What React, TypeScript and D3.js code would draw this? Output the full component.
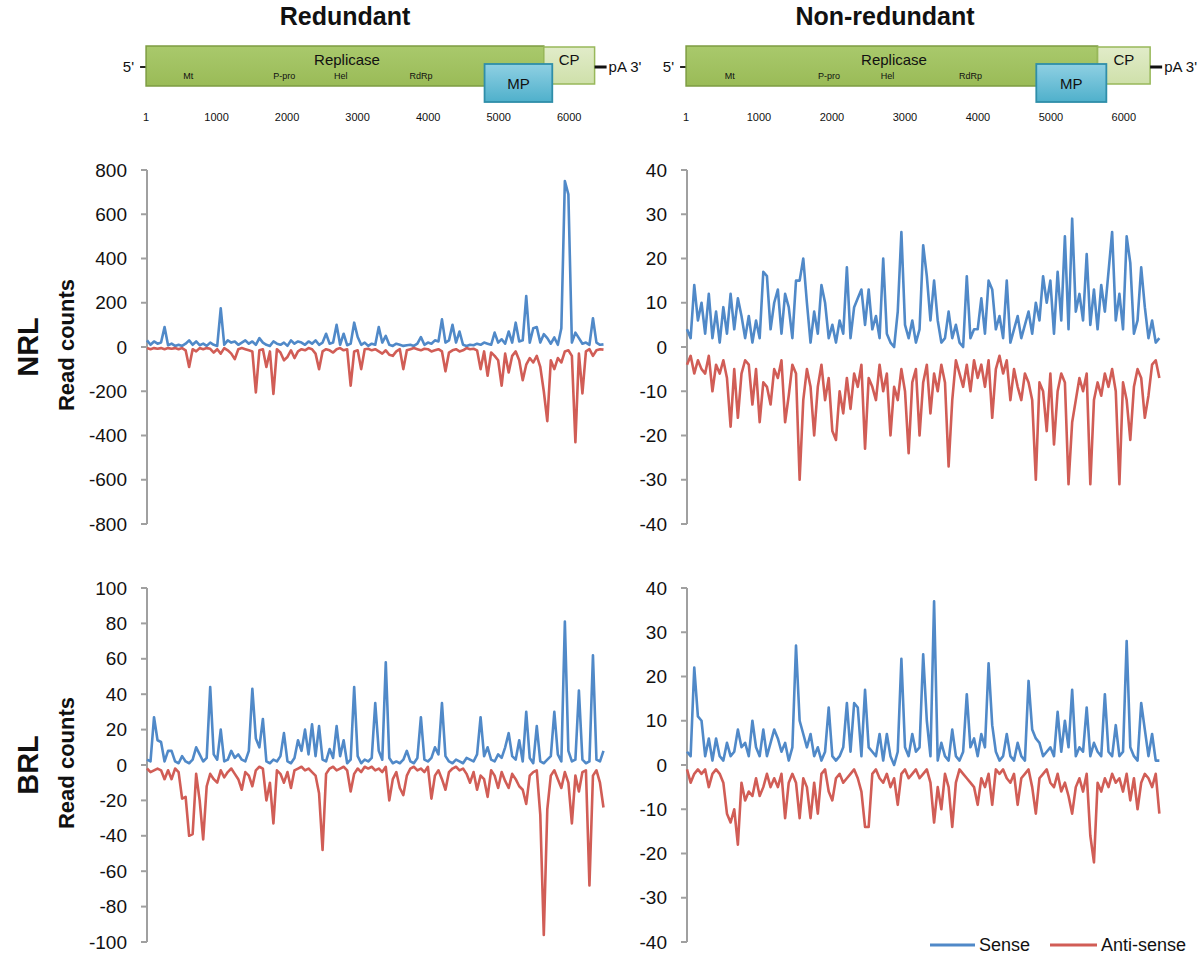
import React from 'react';
import * as d3 from 'd3';

// ---------- data (read counts per 50-nt bin along the genome) ----------
const BIN = 50;
const GENOME_MAX = 6550;

const columnTitles = ['Redundant', 'Non-redundant'];
const rowLabels = ['NRL', 'BRL'];
const positionTicks = [1, 1000, 2000, 3000, 4000, 5000, 6000];

const nrlRedundantSense = [
  30, 10, 25, 15, 20, 90, 8, 15, 5, 10,
  5, 15, 30, 10, 25, 8, 15, 5, 20, 10,
  5, 175, 10, 30, 20, 25, 10, 20, 30, 15,
  25, 10, 40, 20, 10, 5, 25, 15, 10, 20,
  5, 30, 15, 25, 20, 10, 25, 15, 30, 10,
  20, 60, 15, 20, 100, 10, 60, 8, 15, 110,
  45, 10, 20, 5, 15, 10, 90, 20, 50, 10,
  5, 15, 10, 5, 8, 10, 5, 15, 45, 10,
  20, 15, 30, 25, 125, 20, 30, 100, 20, 70,
  10, 5, 10, 8, 15, 10, 20, 15, 10, 65,
  20, 35, 15, 70, 20, 110, 25, 30, 230, 20,
  85, 90, 20, 58, 40, 15, 43, 10, 85, 750,
  690, 20, 65, 40, 15, 20, 10, 130, 20, 10,
  12,
];
const nrlRedundantAnti = [
  -5, -10, -5, -8, -5, -10, -5, -8, -5, -10,
  -5, -15, -90, -10, -20, -5, -10, -5, -8, -25,
  -10, -30, -5, -15, -30, -55, -10, -5, -10, -15,
  -20, -205, -15, -10, -90, -20, -212, -10, -25, -60,
  -45, -15, -50, -20, -10, -15, -5, -10, -30, -100,
  -20, -10, -15, -25, -10, -5, -15, -10, -175, -20,
  -15, -100, -10, -8, -15, -10, -20, -30, -15, -35,
  -40, -20, -10, -100, -15, -10, -5, -10, -15, -8,
  -10, -20, -15, -10, -20, -110, -25, -15, -10, -20,
  -15, -5, -10, -8, -15, -100, -20, -130, -25, -40,
  -60, -175, -30, -115, -40, -20, -60, -150, -80, -50,
  -70, -40, -90, -200, -335, -60, -100, -50, -70, -20,
  -15, -40, -430, -30, -210, -20, -10, -40, -15, -10,
  -12,
];

const nrlNonRedundantSense = [
  4, 2, 14, 6, 10, 3, 12, 2, 8, 1,
  9, 3, 12, 4, 11, 7, 2, 7, 1, 6,
  2, 17, 16, 4, 10, 13, 3, 12, 9, 2,
  15, 15, 20, 10, 1, 8, 3, 14, 10, 2,
  5, 1, 6, 3, 18, 2, 9, 11, 13, 5,
  13, 4, 7, 2, 20, 3, 1, 0, 8, 26,
  5, 2, 6, 1, 4, 23, 16, 6, 15, 6,
  1, 2, 8, 2, 5, 1, 0, 16, 2, 4,
  4, 11, 3, 15, 13, 4, 7, 2, 15, 1,
  4, 7, 2, 5, 8, 3, 10, 6, 16, 10,
  15, 3, 17, 6, 25, 4, 29, 8, 12, 6,
  21, 5, 13, 4, 14, 8, 17, 26, 6, 12,
  4, 25, 19, 3, 6, 18, 9, 2, 6, 1,
  2,
];
const nrlNonRedundantAnti = [
  -4, -2, -6, -3, -5, -6, -2, -10, -4, -6,
  -3, -7, -18, -5, -16, -6, -3, -4, -13, -5,
  -17, -8, -9, -13, -5, -7, -3, -17, -11, -4,
  -6, -30, -12, -5, -9, -20, -9, -4, -12, -7,
  -19, -21, -10, -15, -7, -14, -6, -9, -4, -23,
  -7, -9, -12, -4, -10, -6, -20, -9, -12, -5,
  -10, -24, -8, -5, -20, -8, -4, -15, -6, -10,
  -4, -8, -27, -12, -3, -6, -9, -4, -10, -3,
  -7, -4, -9, -3, -16, -5, -2, -6, -3, -12,
  -5, -9, -12, -6, -8, -12, -30, -8, -10, -19,
  -6, -22, -10, -6, -8, -31, -17, -12, -7, -10,
  -6, -31, -12, -8, -11, -6, -9, -5, -10, -31,
  -8, -12, -21, -9, -5, -7, -16, -11, -4, -3,
  -7,
];

const brlRedundantSense = [
  3, 2, 27, 14, 13, 2, 8, 8, 2, 1,
  5, 2, 1, 3, 10, 6, 2, 4, 44, 6,
  3, 20, 2, 3, 8, 4, 6, 3, 2, 8,
  43, 15, 10, 26, 2, 1, 3, 2, 5, 18,
  2, 1, 4, 14, 8, 20, 6, 23, 5, 22,
  3, 2, 9, 4, 22, 5, 14, 1, 3, 44,
  5, 1, 3, 2, 4, 35, 8, 3, 58, 4,
  1, 2, 1, 3, 8, 2, 1, 4, 27, 3,
  2, 4, 10, 6, 35, 5, 2, 1, 3, 2,
  1, 4, 3, 2, 6, 27, 5, 10, 3, 2,
  6, 4, 10, 18, 5, 3, 14, 2, 30, 4,
  1, 22, 2, 1, 3, 5, 30, 6, 2, 81,
  8, 2, 3, 42, 3, 1, 2, 62, 3, 2,
  8,
];
const brlRedundantAnti = [
  -2, -4, -3, -2, -3, -8, -3, -8, -2, -4,
  -19, -18, -40, -39, -5, -20, -42, -12, -5, -8,
  -10, -3, -7, -4, -2, -5, -8, -14, -4, -6,
  -12, -3, -1, -2, -20, -10, -33, -3, -5, -10,
  -4, -13, -3, -2, -1, -3, -2, -4, -6, -16,
  -48, -5, -2, -1, -3, -2, -1, -3, -15, -5,
  -2, -4, -1, -2, -1, -3, -2, -4, -1, -20,
  -8, -4, -13, -17, -6, -2, -1, -3, -2, -4,
  -1, -19, -6, -3, -8, -14, -4, -2, -1, -3,
  -2, -5, -10, -4, -14, -6, -8, -18, -3, -6,
  -13, -4, -9, -13, -5, -8, -12, -14, -22, -6,
  -4, -3, -28, -96, -25, -6, -3, -8, -13, -4,
  -10, -33, -6, -15, -4, -3, -68, -6, -3, -10,
  -24,
];

const brlNonRedundantSense = [
  3, 2, 22, 11, 10, 2, 6, 1, 6, 2,
  1, 5, 2, 3, 8, 4, 5, 2, 10, 4,
  2, 8, 2, 5, 8, 6, 3, 5, 1, 4,
  27, 10, 7, 4, 7, 2, 4, 1, 3, 13,
  2, 1, 2, 4, 14, 3, 14, 13, 2, 17,
  4, 3, 2, 7, 1, 7, 2, 0, 3, 24,
  4, 2, 7, 3, 4, 25, 10, 2, 37, 1,
  5, 2, 1, 8, 2, 1, 3, 16, 4, 6,
  2, 7, 4, 23, 9, 3, 1, 2, 7, 2,
  1, 5, 2, 1, 19, 8, 6, 5, 2, 3,
  4, 2, 12, 3, 10, 4, 17, 2, 4, 3,
  13, 2, 5, 3, 2, 16, 3, 2, 9, 2,
  3, 28, 4, 2, 1, 14, 8, 2, 7, 1,
  1,
];
const brlNonRedundantAnti = [
  -1, -4, -2, -1, -2, -1, -5, -2, -1, -2,
  -4, -11, -13, -10, -18, -4, -8, -6, -7, -3,
  -7, -5, -2, -5, -3, -5, -2, -12, -4, -2,
  -4, -12, -3, -5, -12, -4, -11, -2, -1, -6,
  -8, -3, -2, -4, -3, -2, -1, -3, -6, -14,
  -14, -2, -1, -3, -4, -2, -5, -3, -9, -2,
  -1, -3, -2, -1, -3, -2, -1, -4, -13, -5,
  -10, -2, -5, -14, -4, -1, -2, -3, -4, -5,
  -9, -3, -5, -2, -9, -1, -2, -1, -3, -4,
  -2, -9, -3, -2, -1, -5, -11, -3, -2, -1,
  -4, -5, -2, -6, -4, -7, -11, -5, -3, -6,
  -2, -16, -22, -4, -6, -3, -5, -2, -4, -3,
  -6, -2, -8, -3, -10, -4, -2, -3, -5, -2,
  -11,
];

// genome features (nt)
const replicaseSpan = [1, 5640];
const cpSpan = [5640, 6360];
const mpSpan = [4800, 5760];
const domainLabels = [
  { name: 'Mt', pos: 600 },
  { name: 'P-pro', pos: 1960 },
  { name: 'Hel', pos: 2760 },
  { name: 'RdRp', pos: 3900 },
];

// ---------- styling ----------
const FONT = '"Liberation Sans", Arial, Helvetica, sans-serif';
const SENSE_COLOR = '#5089c8';
const ANTI_COLOR = '#d15d56';
const AXIS_COLOR = '#a0a0a0';

const columns = [
  { x0: 147, x1: 607, titleX: 345 },
  { x0: 687, x1: 1163, titleX: 885 },
];
const rows = [
  { yTop: 170, yBottom: 524 },
  { yTop: 588, yBottom: 942 },
];

const panels = [
  { col: 0, row: 0, max: 800, step: 200, sense: nrlRedundantSense, anti: nrlRedundantAnti },
  { col: 1, row: 0, max: 40, step: 10, sense: nrlNonRedundantSense, anti: nrlNonRedundantAnti },
  { col: 0, row: 1, max: 100, step: 20, sense: brlRedundantSense, anti: brlRedundantAnti },
  { col: 1, row: 1, max: 40, step: 10, sense: brlNonRedundantSense, anti: brlNonRedundantAnti },
];

function Panel({ x0, x1, yTop, yBottom, max, step, sense, anti }: any) {
  const x = d3.scaleLinear().domain([0, GENOME_MAX]).range([x0, x1]);
  const y = d3.scaleLinear().domain([-max, max]).range([yBottom, yTop]);
  const line = d3
    .line<number>()
    .x((_, i) => x(i * BIN))
    .y((d) => y(d));
  const ticks = d3.range(-max, max + step / 2, step);
  return (
    <g>
      <line x1={x0} x2={x0} y1={y(max)} y2={y(-max)} stroke={AXIS_COLOR} strokeWidth={2} />
      {ticks.map((t) => (
        <g key={t}>
          <line x1={x0 - 6} x2={x0} y1={y(t)} y2={y(t)} stroke={AXIS_COLOR} strokeWidth={2} />
          <text
            x={x0 - 20}
            y={y(t)}
            dy="0.35em"
            textAnchor="end"
            fontFamily={FONT}
            fontSize={19}
            fill="#111"
          >
            {t}
          </text>
        </g>
      ))}
      <path d={line(sense) || ''} fill="none" stroke={SENSE_COLOR} strokeWidth={2.6} strokeLinejoin="round" />
      <path d={line(anti) || ''} fill="none" stroke={ANTI_COLOR} strokeWidth={2.6} strokeLinejoin="round" />
    </g>
  );
}

function Genome({ x0, x1, id }: any) {
  const g = d3.scaleLinear().domain([0, GENOME_MAX]).range([x0 - 1, x1 + 1]);
  const repX = g(replicaseSpan[0]);
  const repW = g(replicaseSpan[1]) - repX;
  const cpX = g(cpSpan[0]);
  const cpW = g(cpSpan[1]) - cpX;
  const mpX = g(mpSpan[0]);
  const mpW = g(mpSpan[1]) - mpX;
  const cpEnd = cpX + cpW;
  return (
    <g>
      <defs>
        <linearGradient id={`rep${id}`} x1="0" y1="0" x2="0" y2="1">
          <stop offset="0" stopColor="#a9c96c" />
          <stop offset="1" stopColor="#9abb57" />
        </linearGradient>
        <linearGradient id={`mp${id}`} x1="0" y1="0" x2="0" y2="1">
          <stop offset="0" stopColor="#8fd0e3" />
          <stop offset="1" stopColor="#4fb0cb" />
        </linearGradient>
        <linearGradient id={`cp${id}`} x1="0" y1="0" x2="0" y2="1">
          <stop offset="0" stopColor="#e1ecc9" />
          <stop offset="1" stopColor="#cfe0aa" />
        </linearGradient>
      </defs>
      <line x1={repX - 6} x2={repX} y1={67} y2={67} stroke="#222" strokeWidth={2} />
      <text x={repX - 12} y={67} dy="0.35em" textAnchor="end" fontFamily={FONT} fontSize={15} fill="#111">
        5'
      </text>
      <rect x={repX} y={46} width={repW} height={40} fill={`url(#rep${id})`} stroke="#7d9c42" strokeWidth={1.5} />
      <rect x={cpX} y={47} width={cpW} height={37} fill={`url(#cp${id})`} stroke="#98b85a" strokeWidth={1.5} />
      <line x1={cpEnd} x2={cpEnd + 12} y1={67} y2={67} stroke="#111" strokeWidth={3} />
      <text x={cpEnd + 14} y={67} dy="0.35em" fontFamily={FONT} fontSize={15} fill="#111">
        pA 3'
      </text>
      <text
        x={g(2850)}
        y={60}
        dy="0.35em"
        textAnchor="middle"
        fontFamily={FONT}
        fontSize={15}
        fill="#111"
      >
        Replicase
      </text>
      {domainLabels.map((d) => (
        <text
          key={d.name}
          x={g(d.pos)}
          y={76}
          dy="0.35em"
          textAnchor="middle"
          fontFamily={FONT}
          fontSize={9}
          fill="#111"
        >
          {d.name}
        </text>
      ))}
      <text
        x={cpX + cpW / 2}
        y={60}
        dy="0.35em"
        textAnchor="middle"
        fontFamily={FONT}
        fontSize={15}
        fill="#111"
      >
        CP
      </text>
      <rect x={mpX} y={64} width={mpW} height={38} fill={`url(#mp${id})`} stroke="#2f8ea9" strokeWidth={1.8} />
      <text
        x={mpX + mpW / 2}
        y={84}
        dy="0.35em"
        textAnchor="middle"
        fontFamily={FONT}
        fontSize={15}
        fill="#111"
      >
        MP
      </text>
      {positionTicks.map((p) => (
        <text
          key={p}
          x={g(p)}
          y={117}
          dy="0.35em"
          textAnchor="middle"
          fontFamily={FONT}
          fontSize={11}
          fill="#111"
        >
          {p}
        </text>
      ))}
    </g>
  );
}

export default function App() {
  return (
    <svg
      width={1200}
      height={959}
      viewBox="0 0 1200 959"
      style={{ position: 'absolute', left: 0, top: 0, background: '#fff' }}
    >
      <rect x={0} y={0} width={1200} height={959} fill="#fff" />
      {columns.map((c, i) => (
        <text
          key={columnTitles[i]}
          x={c.titleX}
          y={16}
          dy="0.35em"
          textAnchor="middle"
          fontFamily={FONT}
          fontWeight="bold"
          fontSize={25}
          fill="#111"
        >
          {columnTitles[i]}
        </text>
      ))}
      {columns.map((c, i) => (
        <Genome key={i} id={i} x0={c.x0} x1={c.x1} />
      ))}
      {rows.map((r, i) => {
        const cy = (r.yTop + r.yBottom) / 2;
        return (
          <g key={rowLabels[i]}>
            <text
              transform={`translate(28,${cy}) rotate(-90)`}
              dy="0.35em"
              textAnchor="middle"
              fontFamily={FONT}
              fontWeight="bold"
              fontSize={29}
              fill="#111"
            >
              {rowLabels[i]}
            </text>
            <text
              transform={`translate(66,${cy - 2}) rotate(-90)`}
              dy="0.35em"
              textAnchor="middle"
              fontFamily={FONT}
              fontWeight="bold"
              fontSize={22}
              fill="#111"
            >
              Read counts
            </text>
          </g>
        );
      })}
      {panels.map((p, i) => (
        <Panel
          key={i}
          x0={columns[p.col].x0}
          x1={columns[p.col].x1}
          yTop={rows[p.row].yTop}
          yBottom={rows[p.row].yBottom}
          max={p.max}
          step={p.step}
          sense={p.sense}
          anti={p.anti}
        />
      ))}
      <g>
        <line x1={930} x2={975} y1={945} y2={945} stroke={SENSE_COLOR} strokeWidth={3} />
        <text x={979} y={945} dy="0.35em" fontFamily={FONT} fontSize={18} fill="#111">
          Sense
        </text>
        <line x1={1050} x2={1097} y1={945} y2={945} stroke={ANTI_COLOR} strokeWidth={3} />
        <text x={1101} y={945} dy="0.35em" fontFamily={FONT} fontSize={18} fill="#111">
          Anti-sense
        </text>
      </g>
    </svg>
  );
}
